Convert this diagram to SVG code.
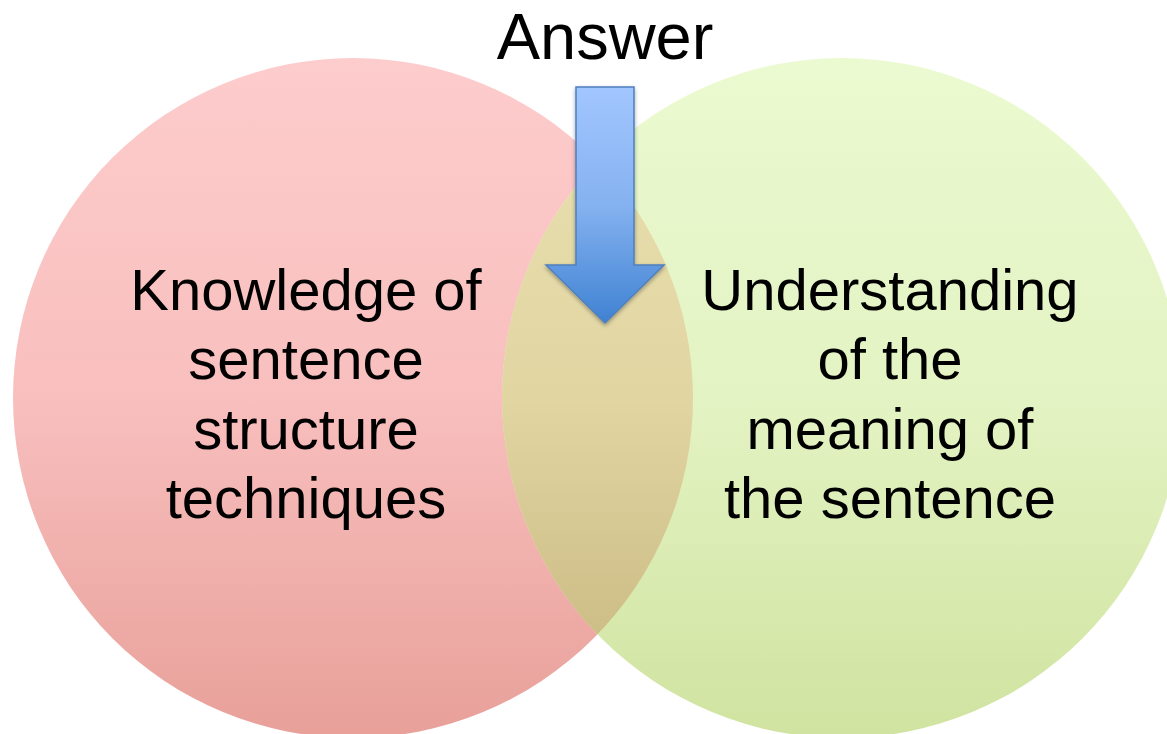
<svg xmlns="http://www.w3.org/2000/svg" width="1167" height="734" viewBox="0 0 1167 734">
  <style>
    .lbl { font-family: "Liberation Sans", Arial, sans-serif; font-size: 58px; fill: #000; text-anchor: middle; }
    .title { font-family: "Liberation Sans", Arial, sans-serif; font-size: 65px; fill: #000; text-anchor: middle; }
    .arrow { fill: url(#gArrow); stroke: #4F7FBF; stroke-width: 1.5; stroke-linejoin: miter; }
  </style>
  <defs>
    <linearGradient id="gPink" gradientUnits="userSpaceOnUse" x1="0" y1="58" x2="0" y2="738">
      <stop offset="0" stop-color="#FDCCCC"/>
      <stop offset="0.5" stop-color="#F8BFBE"/>
      <stop offset="1" stop-color="#E8A099"/>
    </linearGradient>
    <linearGradient id="gGreen" gradientUnits="userSpaceOnUse" x1="0" y1="58" x2="0" y2="738">
      <stop offset="0" stop-color="#EBFAD0"/>
      <stop offset="0.5" stop-color="#E4F3C3"/>
      <stop offset="1" stop-color="#D0E3A0"/>
    </linearGradient>
    <linearGradient id="gOverlap" gradientUnits="userSpaceOnUse" x1="0" y1="160" x2="0" y2="640">
      <stop offset="0" stop-color="#E7DEAD"/>
      <stop offset="0.5" stop-color="#E1D5A2"/>
      <stop offset="1" stop-color="#CDBD86"/>
    </linearGradient>
    <linearGradient id="gArrow" gradientUnits="userSpaceOnUse" x1="0" y1="87" x2="0" y2="323">
      <stop offset="0" stop-color="#A2C6FF"/>
      <stop offset="0.5" stop-color="#85B2F0"/>
      <stop offset="1" stop-color="#3F82D2"/>
    </linearGradient>
    <clipPath id="clipLeft">
      <circle cx="353" cy="398" r="340"/>
    </clipPath>
    <filter id="shadow" x="-20%" y="-10%" width="140%" height="130%">
      <feGaussianBlur in="SourceAlpha" stdDeviation="2"/>
      <feOffset dx="0" dy="2" result="b"/>
      <feComponentTransfer><feFuncA type="linear" slope="0.35"/></feComponentTransfer>
      <feMerge><feMergeNode/><feMergeNode in="SourceGraphic"/></feMerge>
    </filter>
  </defs>

  <g id="left-circle">
    <circle cx="353" cy="398" r="340" fill="url(#gPink)"/>
  </g>
  <g id="right-circle">
    <circle cx="842" cy="398" r="340" fill="url(#gGreen)"/>
  </g>
  <g id="overlap">
    <circle cx="842" cy="398" r="340" fill="url(#gOverlap)" clip-path="url(#clipLeft)"/>
  </g>

  <g id="left-label">
    <text class="lbl" x="306" y="310">Knowledge of</text>
    <text class="lbl" x="306" y="379">sentence</text>
    <text class="lbl" x="306" y="449">structure</text>
    <text class="lbl" x="306" y="518">techniques</text>
  </g>
  <g id="right-label">
    <text class="lbl" x="890" y="310">Understanding</text>
    <text class="lbl" x="890" y="379">of the</text>
    <text class="lbl" x="890" y="449">meaning of</text>
    <text class="lbl" x="890" y="518">the sentence</text>
  </g>

  <g id="answer">
    <text class="title" x="605" y="59">Answer</text>
  </g>

  <g id="connectors">
    <path class="arrow" filter="url(#shadow)" d="M576,87 L634,87 L634,265 L664,265 L605,323 L546,265 L576,265 Z"/>
  </g>
</svg>
